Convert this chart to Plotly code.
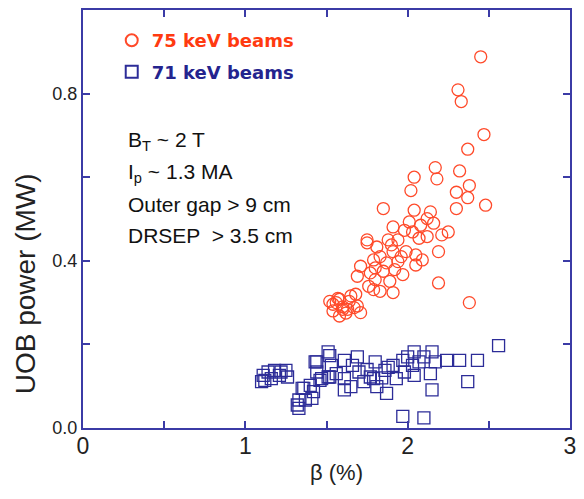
import plotly.graph_objects as go

# 75 keV beams (red circles)
beta75 = [2.45,2.31,2.33,2.47,2.37,2.17,2.18,2.32,2.04,2.02,2.30,2.38,2.37,2.48,2.30,1.85,2.04,2.14,2.12,2.01,
          1.91,2.25,2.21,2.12,2.07,1.75,1.88,1.94,1.99,1.91,1.83,2.19,2.05,2.09,1.96,1.87,1.80,1.71,1.85,1.92,
          1.97,1.69,1.80,1.89,2.19,1.76,1.83,1.91,2.38,1.65,1.58,1.54,1.63,1.69,1.71,1.56,1.60,1.54,1.67,1.58,
          1.68,1.79,1.77,1.79,1.75,1.81,1.90,2.03,2.08,1.98,2.16,2.05,1.94,1.64,1.52,1.60,1.62,1.57]
power75 = [0.888,0.809,0.781,0.702,0.667,0.623,0.596,0.615,0.600,0.568,0.564,0.580,0.551,0.533,0.525,0.525,0.521,0.517,0.501,0.493,
           0.481,0.469,0.462,0.458,0.454,0.450,0.450,0.450,0.422,0.422,0.410,0.422,0.414,0.402,0.410,0.395,0.383,0.387,0.375,0.379,
           0.367,0.363,0.355,0.351,0.347,0.339,0.327,0.324,0.300,0.316,0.308,0.296,0.284,0.292,0.276,0.300,0.284,0.280,0.288,0.268,
           0.320,0.331,0.371,0.402,0.443,0.433,0.438,0.469,0.485,0.473,0.490,0.390,0.398,0.303,0.303,0.290,0.275,0.310]

# 71 keV beams (blue squares)
beta71 = [1.11,1.14,1.18,1.22,1.25,1.12,1.16,1.21,1.10,1.26,1.35,1.33,1.33,1.32,1.37,1.36,1.42,1.40,1.44,1.44,
          1.51,1.52,1.47,1.41,1.43,1.52,1.53,1.46,1.51,1.61,1.61,1.61,1.69,1.70,1.73,1.80,1.77,1.81,1.87,1.86,
          1.91,1.93,1.97,2.04,2.03,1.98,2.15,2.17,2.14,2.15,2.24,2.32,2.43,2.37,2.56,1.97,2.10,2.10,1.65,1.79,
          2.04,2.07,2.00,1.56,1.66,1.75,1.84,1.88]
power71 = [0.126,0.134,0.138,0.134,0.138,0.114,0.118,0.126,0.111,0.122,0.095,0.067,0.047,0.055,0.067,0.095,0.087,0.102,0.158,0.134,
           0.182,0.122,0.118,0.071,0.158,0.173,0.150,0.114,0.122,0.162,0.118,0.091,0.170,0.134,0.111,0.158,0.122,0.099,0.083,0.138,
           0.150,0.118,0.162,0.182,0.150,0.134,0.182,0.158,0.130,0.091,0.162,0.162,0.162,0.111,0.197,0.028,0.024,0.170,0.099,0.118,
           0.126,0.158,0.170,0.130,0.150,0.140,0.120,0.145]

x_ticks = [0, 1, 2, 3]
x_ticktext = ["0", "1", "2", "3"]
x_minor = [0.5, 1.5, 2.5]
y_ticks = [0, 0.4, 0.8]
y_ticktext = ["0.0", "0.4", "0.8"]
y_minor = [0.2, 0.6]

conditions = ["B<sub>T</sub> ~ 2 T", "I<sub>p</sub> ~ 1.3 MA", "Outer gap > 9 cm", "DRSEP  > 3.5 cm"]

RED = "#ff4a2a"
BLUE = "#2c2c98"
AXIS = "#3b3ba6"

fig = go.Figure()
fig.add_trace(go.Scatter(
    x=beta75, y=power75, mode="markers", legendgroup="a",
    name="<b><span style='color:#ff3a10'>75 keV beams</span></b>",
    marker=dict(symbol="circle-open", size=12, color=RED, line=dict(width=1.3, color=RED)),
))
fig.add_trace(go.Scatter(
    x=beta71, y=power71, mode="markers", legendgroup="b",
    name="<b><span style='color:#24248e'>71 keV beams</span></b>",
    marker=dict(symbol="square-open", size=12, color=BLUE, line=dict(width=1.3, color=BLUE)),
))

axis_common = dict(
    showline=True, linecolor=AXIS, linewidth=2, mirror="ticks",
    ticks="inside", ticklen=7, tickwidth=2, tickcolor=AXIS,
    showgrid=False, zeroline=False,
)
fig.update_xaxes(range=[0, 3], tickvals=x_ticks, ticktext=x_ticktext,
                 minor=dict(tickvals=x_minor, ticks="inside", ticklen=7, tickwidth=2, tickcolor=AXIS, showgrid=False),
                 tickfont=dict(family="Liberation Sans Narrow, Liberation Sans, Arial", size=23, color="#222"),
                 ticklabelstandoff=-4,
                 **axis_common)
fig.update_yaxes(range=[0, 1.0], tickvals=y_ticks, ticktext=y_ticktext,
                 minor=dict(tickvals=y_minor, ticks="inside", ticklen=7, tickwidth=2, tickcolor=AXIS, showgrid=False),
                 tickfont=dict(family="Liberation Sans, Arial", size=18, color="#222"),
                 ticklabelstandoff=0,
                 **axis_common)

for i, t in enumerate(conditions):
    fig.add_annotation(text=t, xref="paper", yref="paper", x=0.089, y=0.686 - i * 0.0755,
                       xanchor="left", yanchor="middle", showarrow=False,
                       font=dict(family="Liberation Sans, Arial", size=21, color="#111"))

fig.add_annotation(text="UOB power (MW)", xref="paper", yref="paper", x=-0.118, y=0.345,
                   xanchor="center", yanchor="middle", textangle=-90, showarrow=False,
                   font=dict(family="Liberation Sans, Arial", size=28, color="#222"))
fig.add_annotation(text="β (%)", xref="paper", yref="paper", x=0.52, y=-0.107,
                   xanchor="center", yanchor="middle", showarrow=False,
                   font=dict(family="Liberation Sans, Arial", size=22, color="#222"))

fig.update_layout(
    width=584, height=499,
    margin=dict(l=83, r=8, t=8, b=71),
    paper_bgcolor="white", plot_bgcolor="white",
    showlegend=True,
    legend=dict(x=0.059, y=0.971, xanchor="left", yanchor="top",
                font=dict(family="DejaVu Sans, Arial", size=18),
                tracegroupgap=5,
                bgcolor="rgba(0,0,0,0)", itemsizing="constant"),
)

fig.write_html("out.html", config={"displayModeBar": False},
               post_script="document.body.style.margin='0';document.body.style.padding='0';")
